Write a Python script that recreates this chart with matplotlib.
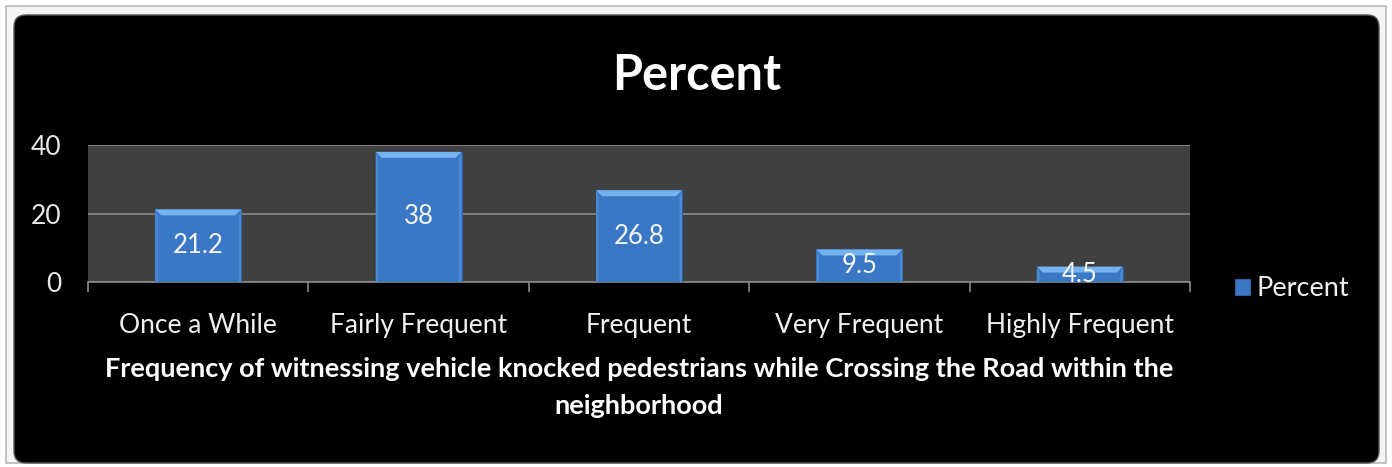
import matplotlib.pyplot as plt
from matplotlib.patches import FancyBboxPatch, Polygon
import numpy as np

categories = ['Once a While', 'Fairly Frequent', 'Frequent', 'Very Frequent', 'Highly Frequent']
percent = [21.2, 38, 26.8, 9.5, 4.5]
y_ticks = [0, 20, 40]

font = ['Lato', 'DejaVu Sans']
plt.rcParams['font.family'] = font

W, H = 1392, 467
fig = plt.figure(figsize=(W / 100, H / 100), dpi=100, facecolor='white')

# outer frame and black chart area (inch coordinates)
fig.patches.append(FancyBboxPatch((0.06, 0.04), 13.80, 4.57,
                                  boxstyle='square,pad=0', transform=fig.dpi_scale_trans,
                                  facecolor='#f4f4f4', edgecolor='#b8b8b8', lw=1.2, zorder=-2))
fig.patches.append(FancyBboxPatch((0.14, 0.04), 13.65, 4.48,
                                  boxstyle='round,pad=0,rounding_size=0.12',
                                  transform=fig.dpi_scale_trans,
                                  facecolor='black', edgecolor='#555555', lw=1, zorder=-1))

ax_w, ax_h = 1190 - 88, 282 - 145
ax = fig.add_axes([88 / W, 1 - 282 / H, ax_w / W, ax_h / H])
ax.set_facecolor('#404040')

x = np.arange(len(categories))
ax.set_xlim(-0.5, len(categories) - 0.5)
ax.set_ylim(0, 40)
px_x = len(categories) / ax_w   # data units per pixel
px_y = 40 / ax_h

bars = ax.bar(x, percent, width=0.39, color='#3a77c4', edgecolor='#2c5f9f', lw=0.8, zorder=3)
# bevelled look: light top face and lighter side strips
bev = 6
for b in bars:
    x0, x1, h = b.get_x(), b.get_x() + b.get_width(), b.get_height()
    dx, dy = bev * px_x, min(bev * px_y, h * 0.45)
    ax.add_patch(Polygon([(x0, h), (x1, h), (x1 - dx, h - dy), (x0 + dx, h - dy)],
                         closed=True, facecolor='#74b2f0', lw=0, zorder=4))
    ax.add_patch(Polygon([(x0, h), (x0 + 2.5 * px_x, h - dy), (x0 + 2.5 * px_x, 0), (x0, 0)],
                         closed=True, facecolor='#4b8ad4', lw=0, zorder=4))
    ax.add_patch(Polygon([(x1, h), (x1 - 2.5 * px_x, h - dy), (x1 - 2.5 * px_x, 0), (x1, 0)],
                         closed=True, facecolor='#4b8ad4', lw=0, zorder=4))
    ax.text((x0 + x1) / 2, h / 2, f'{h:g}',
            ha='center', va='center', color='#f4f4f4', fontsize=18.5, zorder=5)

ax.set_yticks(y_ticks)
ax.yaxis.grid(True, color='#8a8a8a', lw=1.2)
ax.set_axisbelow(True)
ax.tick_params(axis='y', labelsize=19, length=0, pad=19, labelcolor='#e8e8e8')

ax.set_xticks(x)
ax.set_xticklabels(categories, color='#f0f0f0', fontsize=19)
ax.tick_params(axis='x', length=0, pad=22)
ax.set_xticks(np.arange(-0.5, len(categories)), minor=True)
ax.tick_params(axis='x', which='minor', length=7, color='#8a8a8a', width=1.2)

for side in ['top', 'right', 'left']:
    ax.spines[side].set_visible(False)
ax.spines['bottom'].set_color('#8a8a8a')
ax.spines['bottom'].set_linewidth(1.2)

ax.set_xlabel('Frequency of witnessing vehicle knocked pedestrians while Crossing the Road within the\nneighborhood',
              color='white', fontsize=19.5, fontweight='bold', linespacing=1.65, labelpad=14)

fig.text(697 / W, 1 - 75 / H, 'Percent', color='white', fontsize=35, fontweight='bold',
         ha='center', va='center')

leg = ax.legend([bars[0]], ['Percent'], loc='center left', bbox_to_anchor=(1.019, -0.05),
                frameon=False, fontsize=19.5, handlelength=0.55, handleheight=0.55,
                handletextpad=0.25, labelcolor='#f0f0f0')

fig.savefig('out.png', dpi=100, facecolor=fig.get_facecolor())
